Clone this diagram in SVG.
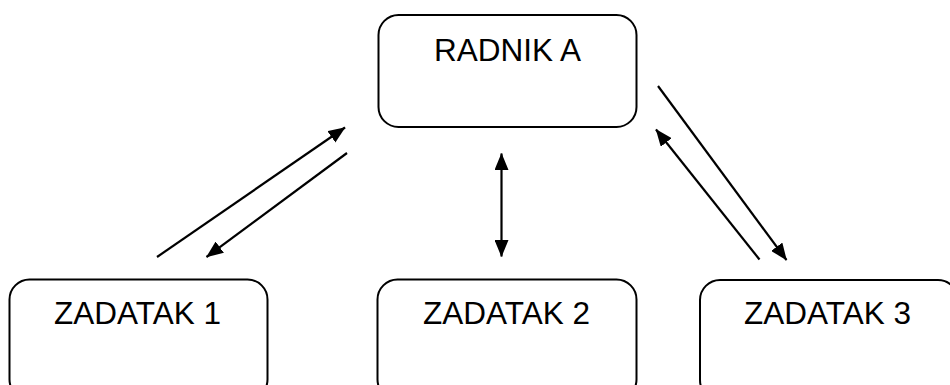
<svg xmlns="http://www.w3.org/2000/svg" width="950" height="385" viewBox="0 0 950 385">
<style>
.box{fill:#fff;stroke:#000;stroke-width:2}
.lbl{font-family:"Liberation Sans",Arial,sans-serif;font-size:31.5px;fill:#000;text-anchor:middle}
.con{stroke:#000;stroke-width:2.2;fill:none}
</style>
<defs>
<marker id="ah" markerUnits="userSpaceOnUse" markerWidth="17" markerHeight="14" refX="16.5" refY="7" orient="auto-start-reverse" viewBox="0 0 17 14">
<path d="M0,0 L17,7 L0,14 z" fill="#000"/>
</marker>
</defs>
<rect x="0" y="0" width="950" height="385" fill="#fff"/>
<g id="radnik-a">
<rect class="box" x="378.5" y="15" width="258" height="112" rx="20"/>
<text class="lbl" x="507.5" y="61">RADNIK A</text>
</g>
<g id="zadatak-1">
<rect class="box" x="9.5" y="279.5" width="258" height="120" rx="20"/>
<text class="lbl" x="137.5" y="324">ZADATAK 1</text>
</g>
<g id="zadatak-2">
<rect class="box" x="377.5" y="279.5" width="259" height="120" rx="20"/>
<text class="lbl" x="506.5" y="324">ZADATAK 2</text>
</g>
<g id="zadatak-3">
<rect class="box" x="700" y="280" width="258" height="120" rx="20"/>
<text class="lbl" x="827.5" y="324">ZADATAK 3</text>
</g>
<g id="connectors">
<line class="con" x1="157" y1="257" x2="345" y2="127.5" marker-end="url(#ah)"/>
<line class="con" x1="347" y1="153" x2="206.5" y2="257" marker-end="url(#ah)"/>
<line class="con" x1="501.5" y1="153.5" x2="501.5" y2="256.5" marker-start="url(#ah)" marker-end="url(#ah)"/>
<line class="con" x1="658" y1="86" x2="786.5" y2="260" marker-end="url(#ah)"/>
<line class="con" x1="759.5" y1="259.5" x2="656" y2="129.5" marker-end="url(#ah)"/>
</g>
</svg>
